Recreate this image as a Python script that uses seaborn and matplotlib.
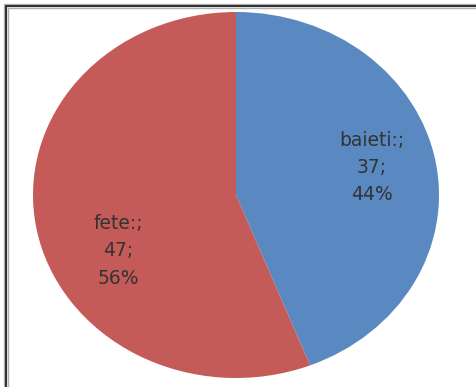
import matplotlib
matplotlib.use("Agg")
import matplotlib.pyplot as plt
from matplotlib.lines import Line2D
import seaborn as sns

sns.set_theme(style="white")
plt.rcParams['font.family'] = ['DejaVu Sans']

categories = ["baieti", "fete"]
counts = [37, 47]
percents = [44, 56]
colors = ["#5A89C1", "#C45B58"]

W, H = 476, 387
fig = plt.figure(figsize=(W / 100, H / 100), dpi=100)
fig.patch.set_facecolor("white")

# pie area placed so the ellipse spans its axes box
cx, cy, rx, ry = 236, 195, 203, 183
ax = fig.add_axes([(cx - rx) / W, 1 - (cy + ry) / H, 2 * rx / W, 2 * ry / H])
wedges, _ = ax.pie(counts, colors=colors, startangle=90, counterclock=False,
                   radius=1.0, wedgeprops=dict(linewidth=0))
ax.set_aspect('auto')
ax.set_xlim(-1, 1)
ax.set_ylim(-1, 1)
ax.axis('off')

label_pos = [(0.67, 0.15), (-0.58, -0.305)]
for name, n, p, (x, y) in zip(categories, counts, percents, label_pos):
    ax.text(x, y, f"{name}:;\n{n};\n{p}%", ha="center", va="center",
            fontsize=13.5, color="#333333", linespacing=1.55)

# chart frame along top and left edges
for lw, col, off in [(1.0, "#c0c0c0", 3.5), (1.6, "#333333", 5.5), (1.0, "#b0b0b0", 7.5)]:
    fig.add_artist(Line2D([off / W, 1], [1 - off / H, 1 - off / H],
                          transform=fig.transFigure, color=col, lw=lw))
    fig.add_artist(Line2D([off / W, off / W], [0, 1 - off / H],
                          transform=fig.transFigure, color=col, lw=lw))

fig.savefig("out.png", dpi=100)
